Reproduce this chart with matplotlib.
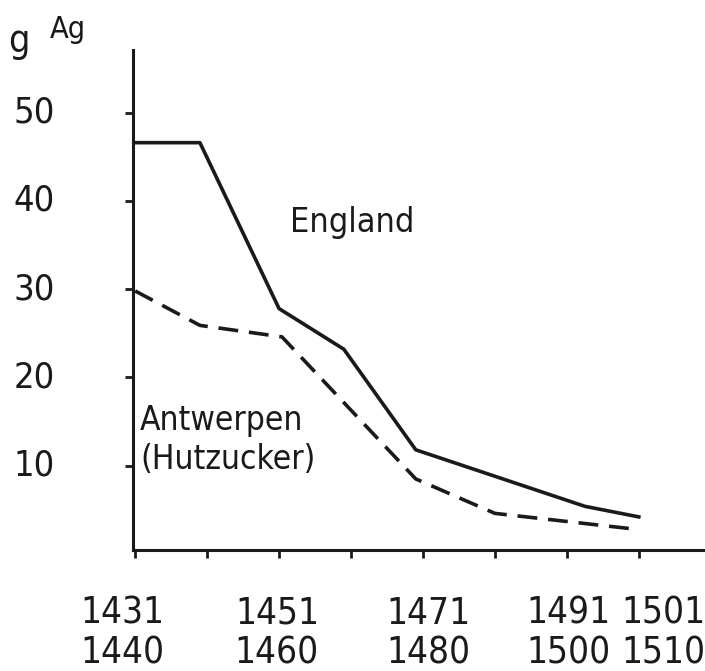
import matplotlib.pyplot as plt

# data (x = year, value in g Ag)
england_years = [1431, 1440, 1451, 1460, 1470, 1493.5, 1501]
england_vals = [46.6, 46.6, 27.8, 23.2, 11.8, 5.4, 4.2]

antwerp_years = [1431, 1440, 1451.4, 1470, 1481, 1500.6]
antwerp_vals = [29.8, 25.9, 24.6, 8.5, 4.6, 2.8]

decade_ticks = [1431, 1441, 1451, 1461, 1471, 1481, 1491, 1501]
y_ticks = [10, 20, 30, 40, 50]
period_from = ['1431', '1451', '1471', '1491', '1501']
period_to = ['1440', '1460', '1480', '1500', '1510']

W, H = 705, 671
fig = plt.figure(figsize=(W / 100, H / 100), dpi=100)
ax = fig.add_axes([133 / W, 1 - 550 / H, 1 - 133 / W, (550 - 50) / H])

ink = '#1a1a1a'
ax.plot(england_years, england_vals, color=ink, lw=2.6)
ax.plot(antwerp_years, antwerp_vals, color=ink, lw=2.6, dashes=(5.5, 3))

ax.set_xlim(1430.7, 1510.2)
ax.set_ylim(0.45, 57.1)
ax.set_xticks(decade_ticks)
ax.set_xticklabels([])
ax.set_yticks(y_ticks)
ax.set_yticklabels([])
ax.tick_params(length=6, width=2, color=ink)
for s in ['top', 'right']:
    ax.spines[s].set_visible(False)
for s in ['left', 'bottom']:
    ax.spines[s].set_linewidth(2.2)
    ax.spines[s].set_color(ink)

txt = dict(family='DejaVu Sans', fontstretch='condensed', color=ink)

# y labels, well to the left of the axis
for v in y_ticks:
    ax.text(1430.7 - 10 * 78 / 72, v, str(v), ha='right', va='center', fontsize=26, **txt)
fig.text(8 / W, 1 - 52 / H, 'g', ha='left', va='baseline', fontsize=27, **txt)
fig.text(50 / W, 1 - 38 / H, 'Ag', ha='left', va='baseline', fontsize=22, **txt)

# period labels under the axis (last one squeezed against the right edge)
label_px = [122, 277, 428, 568, 663]
for px, a, b in zip(label_px, period_from, period_to):
    fig.text(px / W, 1 - 624 / H, a, ha='center', va='baseline', fontsize=26.5, **txt)
    fig.text(px / W, 1 - 664 / H, b, ha='center', va='baseline', fontsize=26.5, **txt)

ax.text(1452.5, 36.5, 'England', ha='left', va='baseline', fontsize=24.5, **txt)
ax.text(1431.7, 14.0, 'Antwerpen', ha='left', va='baseline', fontsize=24, **txt)
ax.text(1431.7, 9.6, '(Hutzucker)', ha='left', va='baseline', fontsize=24, **txt)

fig.savefig('out.png', dpi=100)
